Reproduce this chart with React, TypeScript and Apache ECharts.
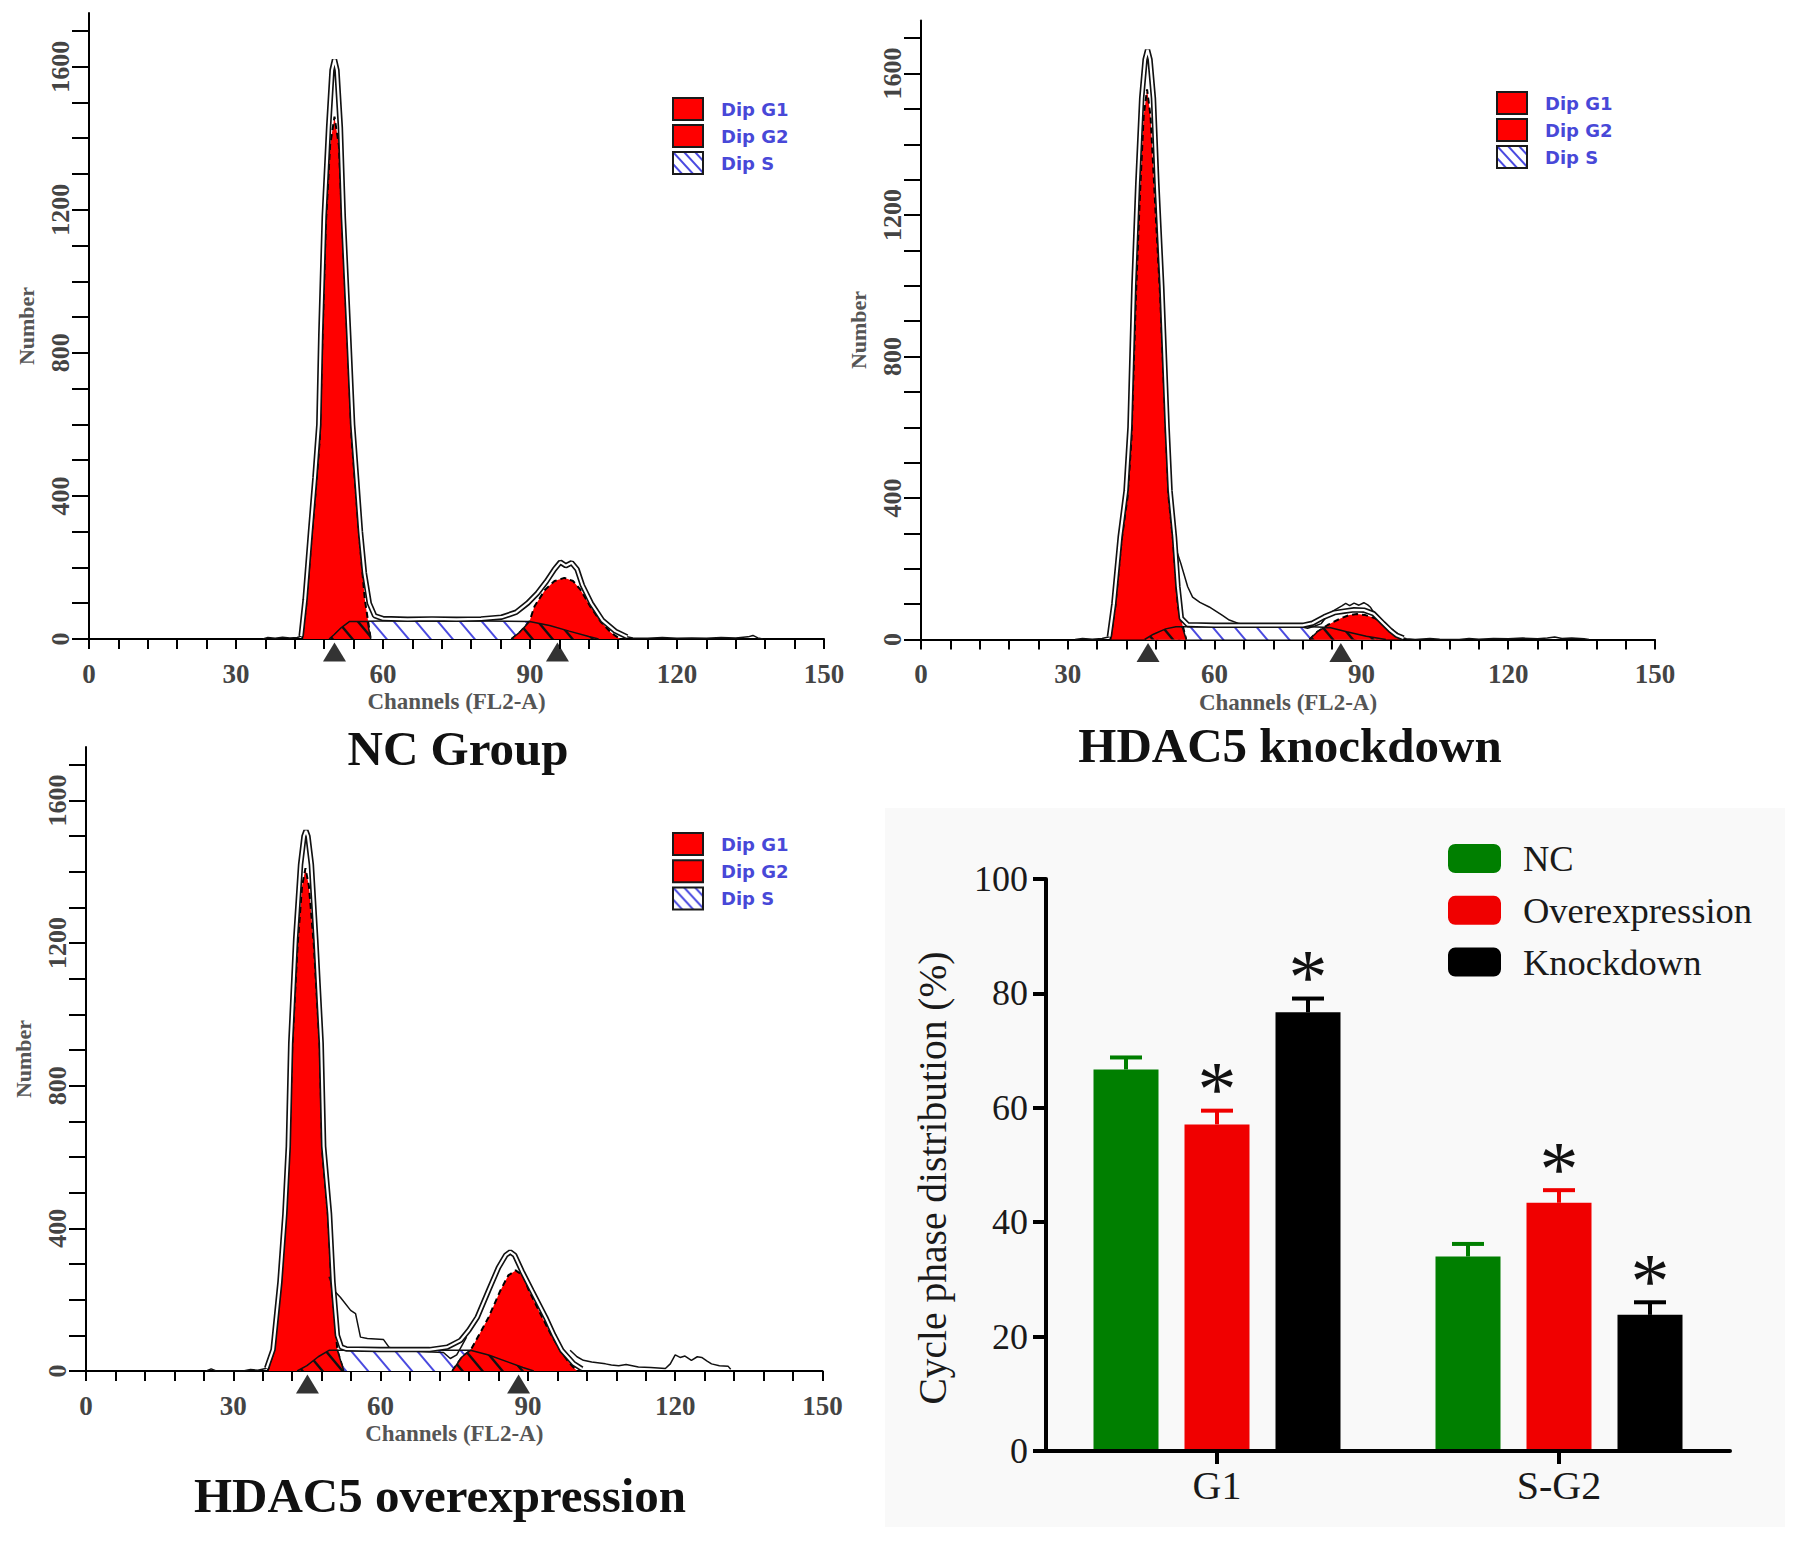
import React, { useEffect, useRef } from 'react';
import * as echarts from 'echarts';

// ---------- flow histograms: points are [channel, count] ----------
const ncG1 = [[43.5, 0], [44.3, 90], [45.4, 278], [46.3, 420], [47.1, 558], [47.6, 817], [48.3, 1150], [49.2, 1380], [50.1, 1460], [51.0, 1380], [51.7, 1150], [52.8, 817], [53.6, 558], [54.4, 420], [55.2, 278], [56.3, 110], [57.5, 0]];
const ncG2 = [[86.2, 0], [88, 20], [89.9, 49], [90.9, 91], [93.1, 138], [95, 162], [97, 171], [98.8, 162], [100.3, 138], [102.3, 91], [104.4, 49], [106.5, 18], [108.4, 0]];
const ncS = [[49, 0], [50, 12], [51.5, 32], [53.2, 49], [60, 50], [70, 50], [80, 50], [90, 49], [94, 38], [98, 22], [102, 7], [104, 0]];
const ncG1Overlap = [[49, 0], [50, 12], [51.5, 32], [53.2, 49], [56.8, 49], [57.5, 0]];
const ncG2Overlap = [[86.2, 0], [88, 20], [89.9, 49], [94, 38], [98, 22], [102, 7], [104, 0]];
const ncFit = [[43.3, 8], [44.1, 110], [45.2, 300], [46.1, 450], [46.9, 600], [47.3, 850], [48.0, 1180], [48.9, 1430], [49.6, 1590], [50.1, 1620], [50.6, 1590], [51.3, 1430], [51.9, 1180], [53.0, 850], [53.8, 600], [54.6, 450], [55.4, 300], [56.2, 185], [57.2, 100], [58.3, 65], [60, 57], [65, 55], [70, 56], [75, 55], [80, 56], [84.2, 61], [87.2, 75], [89.5, 100], [91.5, 128], [93.3, 160], [95, 195], [96.2, 215], [97.3, 205], [98.5, 213], [99.6, 195], [100.7, 150], [102.5, 100], [104.8, 52], [107.4, 22], [109.8, 6]];
const ncRaw = [
  [[35.5, 0], [36.5, 4], [38, 2], [39.5, 5], [41, 3], [42.5, 4], [43.3, 8]],
  [[109.8, 6], [111, 3], [114, 2], [117, 4], [120, 2], [123, 3], [126, 2], [129, 4], [132, 3], [134.5, 6], [135.5, 10], [136.5, 3], [137.5, 0]],
];
const ncMarkers = [50.1, 95.6];

const kdG1 = [[38.7, 0], [39.7, 93], [41.0, 281], [42.2, 402], [43.0, 564], [43.9, 964], [44.7, 1245], [45.5, 1480], [46.2, 1555], [46.9, 1480], [47.8, 1245], [48.9, 964], [50.1, 564], [50.6, 402], [51.5, 281], [52.5, 93], [54.2, 0]];
const kdG2 = [[79.4, 0], [81, 22], [83.1, 41], [85.8, 60], [87.5, 69], [89.1, 72], [90.8, 69], [92.8, 60], [94.9, 41], [96.9, 22], [98.5, 0]];
const kdS = [[45.7, 0], [47.5, 15], [50, 30], [52.1, 36], [60, 36], [70, 36], [79.7, 36], [83.5, 34], [87, 22], [91, 9], [95, 0]];
const kdG1Overlap = [[45.7, 0], [47.5, 15], [50, 30], [52.1, 36], [53.4, 36], [54.2, 0]];
const kdG2Overlap = [[79.4, 0], [81, 22], [82.3, 33], [83.5, 34], [87, 22], [91, 9], [95, 0]];
const kdFit = [[38.5, 8], [39.4, 100], [40.7, 290], [41.9, 420], [42.7, 600], [43.5, 1000], [44.3, 1290], [45.1, 1530], [45.8, 1640], [46.3, 1667], [46.8, 1640], [47.5, 1530], [48.2, 1290], [49.2, 1000], [50.3, 600], [50.9, 420], [51.8, 290], [52.5, 150], [53.2, 60], [54.5, 42], [60, 40], [70, 40], [78, 40], [80, 46], [82.4, 64], [84.5, 76], [86.5, 80], [88.5, 84], [90.5, 83], [92.5, 73], [94.5, 45], [96, 25], [97.2, 12], [98.6, 4]];
const kdRaw = [
  [[31.5, 0], [33, 3], [35, 1], [37, 3], [38.5, 8]],
  [[51.5, 281], [53.1, 215], [54.5, 149], [55.5, 120], [57, 105], [58.9, 92], [61.6, 68], [63, 55], [65, 45], [67.6, 36], [70, 40], [73, 37], [77, 38], [79, 32], [80.5, 38], [81.8, 45], [83.2, 70], [84.5, 83], [86, 95], [86.8, 102], [87.6, 96], [88.5, 103], [89.5, 97], [90.5, 104], [91.3, 98], [91.8, 92], [93.1, 64], [95.2, 36], [97.9, 7], [99.2, 2], [101, 0]],
  [[101, 0], [104, 3], [106, 1], [110, 0], [112, 3], [114, 1], [117, 3], [120, 2], [123, 4], [126, 2], [128, 4], [129.5, 7], [131, 3], [133, 4], [135.5, 2], [136.5, 0]],
];
const kdMarkers = [46.4, 85.8];

const oeG1 = [[37, 0], [38.3, 58], [39.7, 245], [40.7, 432], [41.4, 619], [42.0, 908], [43.1, 1195], [44.0, 1360], [44.7, 1410], [45.4, 1360], [46.4, 1195], [47.6, 908], [48.1, 619], [49.3, 432], [50.0, 245], [51.2, 58], [52.5, 0]];
const oeG2 = [[74.6, 0], [76.6, 40], [78.3, 58], [80, 100], [82, 151], [84.4, 226], [86, 268], [87.5, 282], [89, 268], [90.2, 226], [92.9, 151], [94.8, 100], [96.6, 58], [98.3, 25], [100, 0]];
const oeS = [[43, 0], [45, 15], [47.3, 40], [49.5, 58], [60, 58], [70, 58], [78.3, 58], [82, 45], [86, 25], [89, 10], [91.2, 0]];
const oeG1Overlap = [[43, 0], [45, 15], [47.3, 40], [49.5, 58], [51.2, 58], [52.5, 0]];
const oeG2Overlap = [[74.6, 0], [76.6, 40], [78.3, 58], [82, 45], [86, 25], [89, 10], [91.2, 0]];
const oeFit = [[36.8, 8], [38.1, 60], [39.5, 250], [40.5, 440], [41.2, 630], [41.7, 920], [42.7, 1210], [43.7, 1420], [44.4, 1500], [44.8, 1515], [45.2, 1500], [45.9, 1420], [46.8, 1210], [47.9, 920], [48.4, 630], [49.6, 440], [50.3, 250], [51.2, 100], [52, 67], [53, 62], [60, 60], [70, 60], [73.6, 67], [76.3, 86], [78, 115], [79.7, 151], [82, 226], [84, 290], [85.5, 325], [86.4, 334], [87.3, 325], [88.8, 280], [90.8, 226], [93.6, 151], [95.3, 100], [96.9, 58], [99.3, 21], [101, 6]];
const oeRaw = [
  [[24.5, 0], [25.5, 6], [26.5, 0], [32, 0], [33.5, 4], [35, 2], [36.8, 8]],
  [[49.5, 264], [50.5, 226], [51.8, 207], [53.9, 170], [54.9, 161], [55.9, 95], [57.3, 91], [60.6, 88], [61.7, 67], [63.4, 58], [68, 55], [72.8, 52], [74.2, 35], [75.5, 45], [76.5, 70], [77.5, 95]],
  [[98.6, 58], [100, 40], [101.3, 30], [103, 25], [105.8, 20], [107, 17], [108.5, 15], [110, 18], [112.5, 11], [115, 10], [118, 7], [119, 20], [120, 45], [121, 38], [122, 42], [123.3, 30], [124.5, 40], [125.4, 38], [126.5, 28], [127.4, 20], [129, 15], [130.8, 13], [131.3, 5]],
];
const oeMarkers = [45.1, 88.1];

const histXTicks = [0, 6, 12, 18, 24, 30, 36, 42, 48, 54, 60, 66, 72, 78, 84, 90, 96, 102, 108, 114, 120, 126, 132, 138, 144, 150];
const histXLabels = [0, 30, 60, 90, 120, 150];
const histYTicks = [0, 100, 200, 300, 400, 500, 600, 700, 800, 900, 1000, 1100, 1200, 1300, 1400, 1500, 1600, 1700];
const histYLabels = [0, 400, 800, 1200, 1600];
const histLegend = ['Dip G1', 'Dip G2', 'Dip S'];

// ---------- cycle phase bar chart ----------
const phases = ['G1', 'S-G2'];
const groups = ['NC', 'Overexpression', 'Knockdown'];
const ncPct = [66.7, 34.0];
const ncErr = [68.8, 36.2];
const oePct = [57.1, 43.4];
const oeErr = [59.5, 45.6];
const kdPct = [76.7, 23.8];
const kdErr = [79.1, 26.0];
const ncSig = [false, false];
const oeSig = [true, true];
const kdSig = [true, true];

const RED = '#ff0000';
const SERIF = '"Liberation Serif", "Times New Roman", serif';

function makeHatch(line: string, bg: string, w: number, h: number, lw: number) {
  const c = document.createElement('canvas');
  c.width = w * 2;
  c.height = h * 2;
  const ctx = c.getContext('2d')!;
  ctx.scale(2, 2);
  ctx.fillStyle = bg;
  ctx.fillRect(0, 0, w, h);
  ctx.strokeStyle = line;
  ctx.lineWidth = lw;
  ctx.beginPath();
  for (let k = -1; k <= 1; k++) {
    ctx.moveTo(k * w - 2, (-2 * h) / w);
    ctx.lineTo(k * w + w + 2, h + (2 * h) / w);
  }
  ctx.stroke();
  return { image: c, repeat: 'repeat', imageWidth: w, imageHeight: h } as any;
}

const App: React.FC = () => {
  const chartRef = useRef<HTMLDivElement>(null);

  useEffect(() => {
    if (!chartRef.current) return;
    document.body.style.margin = '0';
    const chart = echarts.init(chartRef.current, undefined, { renderer: 'svg' });

    const blueHatch = makeHatch('#4a4ae0', '#ffffff', 22, 26, 2);
    const blackHatch = makeHatch('#111111', RED, 20, 24, 2.4);
    const iconHatch = makeHatch('#4a4ae0', '#ffffff', 11, 12, 2);

    const panels = [
      { g1: ncG1, g2: ncG2, s: ncS, g1o: ncG1Overlap, g2o: ncG2Overlap, fit: ncFit, raw: ncRaw, markers: ncMarkers,
        grid: { left: 89, top: 13, width: 735, height: 626 }, legend: { left: 672, top: 97, gap: 3 },
        title: 'NC Group', tx: 458, ty: 724 },
      { g1: kdG1, g2: kdG2, s: kdS, g1o: kdG1Overlap, g2o: kdG2Overlap, fit: kdFit, raw: kdRaw, markers: kdMarkers,
        grid: { left: 921, top: 20.5, width: 734, height: 619 }, legend: { left: 1496, top: 91, gap: 3 },
        title: 'HDAC5 knockdown', tx: 1290, ty: 721 },
      { g1: oeG1, g2: oeG2, s: oeS, g1o: oeG1Overlap, g2o: oeG2Overlap, fit: oeFit, raw: oeRaw, markers: oeMarkers,
        grid: { left: 86, top: 747, width: 736.5, height: 624 }, legend: { left: 672, top: 832, gap: 3.2 },
        title: 'HDAC5 overexpression', tx: 440, ty: 1471 },
    ];

    const grids: any[] = [];
    const xAxes: any[] = [];
    const yAxes: any[] = [];
    const series: any[] = [];
    const legends: any[] = [];
    const titles: any[] = [];

    const histText = { fontFamily: SERIF, fontWeight: 'bold', color: '#444' };
    const plain = (v: number) => String(v);

    panels.forEach((p, i) => {
      grids.push({ ...p.grid, containLabel: false, outerBoundsMode: 'none' });
      xAxes.push({
        gridIndex: i, type: 'value', min: 0, max: 150,
        axisLine: { show: true, lineStyle: { color: '#000', width: 2 } },
        axisTick: { show: true, customValues: histXTicks, length: 10, lineStyle: { color: '#000', width: 2 } },
        axisLabel: { customValues: histXLabels, formatter: plain, margin: 21, fontSize: 27, ...histText },
        splitLine: { show: false },
        name: 'Channels (FL2-A)', nameLocation: 'middle', nameGap: 51,
        nameTextStyle: { fontSize: 23, ...histText, color: '#555' },
      });
      yAxes.push({
        gridIndex: i, type: 'value', min: 0, max: 1750,
        axisLine: { show: true, lineStyle: { color: '#000', width: 2 } },
        axisTick: { show: true, customValues: histYTicks, length: 17, lineStyle: { color: '#000', width: 2 } },
        axisLabel: { customValues: histYLabels, formatter: plain, rotate: 90, margin: 16, fontSize: 26, ...histText },
        splitLine: { show: false },
        name: 'Number', nameLocation: 'middle', nameRotate: 90, nameGap: 52,
        nameTextStyle: { fontSize: 22, ...histText, color: '#555' },
      });

      const base = {
        type: 'line', xAxisIndex: i, yAxisIndex: i, showSymbol: false, symbol: 'none',
        silent: true, emphasis: { disabled: true }, clip: true,
      };
      series.push(
        { ...base, name: 'Dip S', data: p.s, z: 2, itemStyle: { color: blueHatch },
          lineStyle: { color: '#111', width: 1.5 }, areaStyle: { color: blueHatch, opacity: 1 } },
        { ...base, name: 'Dip G1', data: p.g1, z: 3, itemStyle: { color: RED },
          lineStyle: { color: '#000', width: 2, type: [6, 4] }, areaStyle: { color: RED, opacity: 1 } },
        { ...base, name: 'Dip G2', data: p.g2, z: 3, itemStyle: { color: RED },
          lineStyle: { color: '#000', width: 2, type: [6, 4] }, areaStyle: { color: RED, opacity: 1 } },
        { ...base, name: 'overlap', data: p.g1o, z: 4, lineStyle: { color: '#111', width: 1.5 },
          areaStyle: { color: blackHatch, opacity: 1 } },
        { ...base, name: 'overlap', data: p.g2o, z: 4, lineStyle: { color: '#111', width: 1.5 },
          areaStyle: { color: blackHatch, opacity: 1 } },
        ...p.raw.map((seg) => ({ ...base, name: 'raw', data: seg, z: 5, lineStyle: { color: '#111', width: 1.5 } })),
        { ...base, name: 'fit', data: p.fit, z: 6, lineStyle: { color: '#111', width: 5.5 } },
        { ...base, name: 'fit', data: p.fit, z: 7, lineStyle: { color: '#fff', width: 2.2 } },
        {
          type: 'scatter', name: 'peak', xAxisIndex: i, yAxisIndex: i, silent: true, clip: false,
          data: p.markers.map((x) => [x, 0]), symbol: 'triangle', symbolSize: [23, 19], symbolOffset: [0, 13],
          itemStyle: { color: '#000' }, z: 8,
        },
      );

      legends.push({
        left: p.legend.left, top: p.legend.top, padding: 0, orient: 'vertical', selectedMode: false,
        icon: 'rect', itemWidth: 30, itemHeight: 22, itemGap: p.legend.gap,
        itemStyle: { borderColor: '#1a1a1a', borderWidth: 2 },
        data: [
          { name: histLegend[0], itemStyle: { color: RED } },
          { name: histLegend[1], itemStyle: { color: RED } },
          { name: histLegend[2], itemStyle: { color: iconHatch } },
        ],
        textStyle: { fontFamily: '"DejaVu Sans", Verdana, sans-serif', fontWeight: 'bold', fontSize: 18,
          color: '#4848d8', lineHeight: 22, padding: [0, 0, 0, 13] },
      });

      titles.push({
        text: p.title, left: p.tx, top: p.ty, textAlign: 'center', padding: 0,
        textStyle: { fontFamily: SERIF, fontWeight: 'bold', fontSize: 49, color: '#111' },
      });
    });

    // bar chart panel
    const bi = 3;
    grids.push({ left: 1046, top: 879, width: 684, height: 572, containLabel: false, outerBoundsMode: 'none' });
    const barText = { fontFamily: SERIF, color: '#1a1a1a' };
    xAxes.push({
      gridIndex: bi, type: 'category', data: phases, z: 5,
      axisLine: { show: true, lineStyle: { color: '#000', width: 4 } },
      axisTick: { show: true, alignWithLabel: true, length: 13, lineStyle: { color: '#000', width: 4 } },
      axisLabel: { margin: 14, fontSize: 40, ...barText },
    });
    yAxes.push({
      gridIndex: bi, type: 'value', min: 0, max: 100, interval: 20, z: 5,
      axisLine: { show: true, lineStyle: { color: '#000', width: 4 } },
      axisTick: { show: true, length: 13, lineStyle: { color: '#000', width: 4 } },
      axisLabel: { margin: 18, fontSize: 36, ...barText },
      splitLine: { show: false },
      name: 'Cycle phase distribution (%)', nameLocation: 'middle', nameRotate: 90, nameGap: 93,
      nameTextStyle: { fontSize: 39.5, ...barText, padding: [0, 26, 0, 0] },
    });

    const barVals = [ncPct, oePct, kdPct];
    const barErrs = [ncErr, oeErr, kdErr];
    const barSig = [ncSig, oeSig, kdSig];
    const barColors = ['#007f00', '#f00000', '#000000'];
    const BAR_W = 65;
    const BAR_GAP = 26;

    groups.forEach((name, k) => {
      const offset = (k - 1) * (BAR_W + BAR_GAP);
      const color = barColors[k];
      series.push({
        type: 'bar', name, xAxisIndex: bi, yAxisIndex: bi, data: barVals[k], barWidth: BAR_W, barGap: '40%',
        itemStyle: { color }, silent: true, z: 2,
      });
      series.push({
        type: 'custom', name: name + ' error', xAxisIndex: bi, yAxisIndex: bi, silent: true, z: 3,
        data: phases.map((_, j) => [j, barVals[k][j], barErrs[k][j]]),
        encode: { x: 0, y: [1, 2] },
        renderItem: (_params: any, api: any) => {
          const top = api.coord([api.value(0), api.value(1)]);
          const err = api.coord([api.value(0), api.value(2)]);
          const x = top[0] + offset;
          return {
            type: 'group',
            children: [
              { type: 'line', shape: { x1: x, y1: top[1], x2: x, y2: err[1] }, style: { stroke: color, lineWidth: 4 } },
              { type: 'line', shape: { x1: x - 16, y1: err[1], x2: x + 16, y2: err[1] }, style: { stroke: color, lineWidth: 4 } },
            ],
          };
        },
      });
      const stars = phases.map((_, j) => [j, barErrs[k][j]]).filter((_, j) => barSig[k][j]);
      if (stars.length) {
        series.push({
          type: 'custom', name: name + ' sig', xAxisIndex: bi, yAxisIndex: bi, silent: true, z: 4,
          data: stars, encode: { x: 0, y: 1 },
          renderItem: (_params: any, api: any) => {
            const pt = api.coord([api.value(0), api.value(1)]);
            return {
              type: 'text', x: pt[0] + offset, y: pt[1] - 22,
              style: { text: '*', fill: '#111', font: `78px ${SERIF}`, align: 'center', verticalAlign: 'middle',
                textAlign: 'center', textVerticalAlign: 'middle' },
            };
          },
        });
      }
    });

    legends.push({
      left: 1448, top: 840, padding: 0, orient: 'vertical', selectedMode: false, icon: 'roundRect',
      itemWidth: 53, itemHeight: 29, itemGap: 14.8,
      data: groups,
      textStyle: { fontSize: 36.5, ...barText, lineHeight: 29, padding: [0, 0, 0, 17] },
    });

    const option: any = {
      animation: false,
      backgroundColor: '#ffffff',
      title: titles,
      grid: grids,
      xAxis: xAxes,
      yAxis: yAxes,
      legend: legends,
      graphic: [
        { type: 'rect', z: -5, silent: true, shape: { x: 885, y: 808, width: 900, height: 719 }, style: { fill: '#f9f9f9' } },
      ],
      series,
    };

    chart.setOption(option);

    return () => {
      chart.dispose();
    };
  }, []);

  return <div ref={chartRef} style={{ width: '1795px', height: '1543px' }} />;
};

export default App;
